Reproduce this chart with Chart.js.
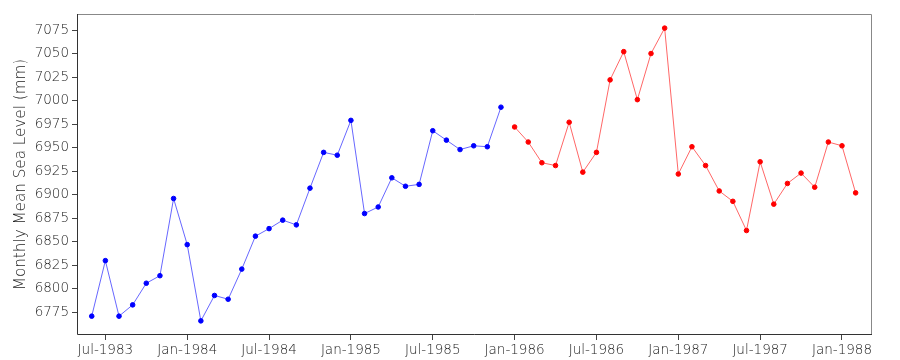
<!DOCTYPE html>
<html>
<head>
<meta charset="utf-8">
<script src="https://cdn.jsdelivr.net/npm/chart.js@4/dist/chart.umd.min.js"></script>
<style>
  html, body { margin: 0; padding: 0; background: #fff; }
  #wrap { width: 900px; height: 360px; }
</style>
</head>
<body>
<div id="wrap"><canvas id="my-chart" width="900" height="360"></canvas></div>
<script>
// months counted from Jun-1983 (index 0)
let observed = [6771, 6830, 6771, 6783, 6806, 6814, 6896, 6847, 6766, 6793, 6789, 6821,
    6856, 6864, 6873, 6868, 6907, 6945, 6942, 6979, 6880, 6887, 6918, 6909, 6911, 6968,
    6958, 6948, 6952, 6951, 6993];
let forecast = [6972, 6956, 6934, 6931, 6977, 6924, 6945, 7022, 7052, 7001, 7050, 7077,
    6922, 6951, 6931, 6904, 6893, 6862, 6935, 6890, 6912, 6923, 6908, 6956, 6952, 6902];
let xTicks = [1, 7, 13, 19, 25, 31, 37, 43, 49, 55];
let xTickLabels = ['Jul-1983', 'Jan-1984', 'Jul-1984', 'Jan-1985', 'Jul-1985',
    'Jan-1986', 'Jul-1986', 'Jan-1987', 'Jul-1987', 'Jan-1988'];
let yTicks = [6775, 6800, 6825, 6850, 6875, 6900, 6925, 6950, 6975, 7000, 7025, 7050, 7075];

let bluePts = observed.map((v, i) => ({ x: i, y: v }));
let redPts = forecast.map((v, i) => ({ x: i + observed.length, y: v }));

let frame = {
    id: 'frame',
    afterDraw(chart) {
        let c = chart.ctx, a = chart.chartArea;
        c.save();
        c.lineWidth = 1;
        c.strokeStyle = '#888';
        c.beginPath();
        c.moveTo(a.left, a.top + 0.5);
        c.lineTo(a.right - 0.5, a.top + 0.5);
        c.lineTo(a.right - 0.5, a.bottom);
        c.stroke();
        c.strokeStyle = '#333';
        c.beginPath();
        c.moveTo(a.left + 0.5, a.top);
        c.lineTo(a.left + 0.5, a.bottom - 0.5);
        c.lineTo(a.right, a.bottom - 0.5);
        c.stroke();
        c.restore();
    }
};

Chart.defaults.font.family = '"DejaVu Sans", sans-serif';
Chart.defaults.font.weight = 200;
Chart.defaults.color = '#222';

let ctx = document.querySelector('#my-chart').getContext('2d');
let myChart = new Chart(ctx, {
    type: 'line',
    data: {
        datasets: [{
            data: bluePts,
            borderColor: 'rgba(0,0,255,0.6)',
            backgroundColor: '#0000ff',
            pointBackgroundColor: '#0000ff',
            pointBorderColor: '#0000ff',
            pointRadius: 2.3,
            borderWidth: 1,
            tension: 0
        }, {
            data: redPts,
            borderColor: 'rgba(255,0,0,0.6)',
            backgroundColor: '#ff0000',
            pointBackgroundColor: '#ff0000',
            pointBorderColor: '#ff0000',
            pointRadius: 2.3,
            borderWidth: 1,
            tension: 0
        }]
    },
    options: {
        responsive: false,
        animation: false,
        layout: { padding: { top: 14, right: 28, left: 0, bottom: 0 } },
        scales: {
            x: {
                type: 'linear',
                min: -1.08,
                max: 57.2,
                afterBuildTicks: function(scale) {
                    scale.ticks = xTicks.map(v => ({ value: v }));
                },
                afterFit: function(scale) { scale.height = 25; },
                ticks: {
                    autoSkip: false,
                    maxRotation: 0,
                    padding: 2,
                    font: { size: 13.5, weight: 200 },
                    color: '#1a1a1a',
                    callback: function(value) {
                        return xTickLabels[xTicks.indexOf(value)];
                    }
                },
                grid: { drawOnChartArea: false, drawTicks: true, tickLength: 5, color: '#444' },
                border: { display: false }
            },
            y: {
                type: 'linear',
                min: 6751,
                max: 7092,
                afterBuildTicks: function(scale) {
                    scale.ticks = yTicks.map(v => ({ value: v }));
                },
                afterFit: function(scale) { scale.width = 77; },
                ticks: {
                    padding: 3,
                    font: { size: 13.5, weight: 200 },
                    color: '#1a1a1a',
                    callback: function(value) { return String(value); }
                },
                grid: { drawOnChartArea: false, drawTicks: true, tickLength: 5, color: '#444' },
                border: { display: false },
                title: {
                    display: true,
                    text: 'Monthly Mean Sea Level (mm)',
                    font: { size: 15.2, weight: 200 },
                    color: '#222',
                    padding: { top: 12, bottom: 0 }
                }
            }
        },
        plugins: {
            legend: { display: false },
            tooltip: { enabled: false }
        }
    },
    plugins: [frame]
});
</script>
</body>
</html>
